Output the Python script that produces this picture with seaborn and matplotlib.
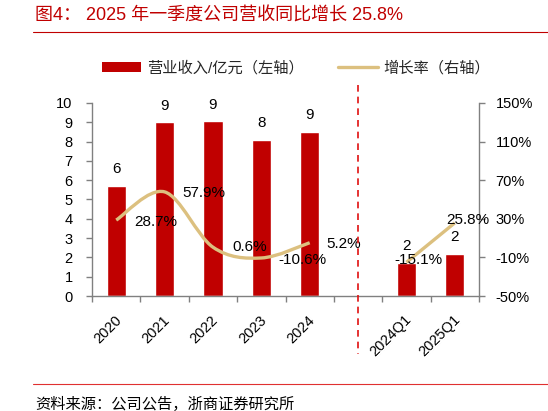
import numpy as np
import pandas as pd
import matplotlib
matplotlib.use('Agg')
import matplotlib.pyplot as plt
import seaborn as sns
from matplotlib.path import Path
from matplotlib.patches import PathPatch, Patch
from matplotlib.lines import Line2D
from matplotlib.transforms import blended_transform_factory, ScaledTranslation

# --- Data ---
periods = ['2020', '2021', '2022', '2023', '2024', '', '2024Q1', '2025Q1']
revenue = [5.7, 9.0, 9.05, 8.1, 8.5, np.nan, 1.72, 2.17]
revenue_labels = ['6', '9', '9', '8', '9', '', '2', '2']
growth = [28.7, 57.9, 0.6, -10.6, 5.2, np.nan, -15.1, 25.8]
growth_labels = ['28.7%', '57.9%', '0.6%', '-10.6%', '5.2%', '', '-15.1%', '25.8%']
left_ticks = list(range(0, 11))
right_ticks = [-50, -10, 30, 70, 110, 150]

# label offsets in pixels (dx, dy) relative to the growth point
growth_offsets = [(18, -2), (18, -1), (19, 0), (17, -2), (17, -1), (0, 0), (-12, 2), (-9, 3)]

BAR_RED = '#C00000'
LINE_TAN = '#DCC07F'
GRAY = '#808080'

sns.set_theme(style='white')
plt.rcParams['font.family'] = ['Liberation Sans', 'Noto Sans CJK SC']

fig = plt.figure(figsize=(5.48, 4.11), dpi=100)
W, H = 548, 411
ax = fig.add_axes([92 / W, 1 - 296 / H, 387 / W, 193 / H])

df = pd.DataFrame({'period': periods, 'revenue': revenue})
sns.barplot(data=df, x='period', y='revenue', order=periods, color=BAR_RED,
            saturation=1, width=0.4, errorbar=None, ax=ax)
ax.set_xlim(-0.5, len(periods) - 0.5)
ax.set_ylim(0, 10)
ax.set_xlabel('')
ax.set_ylabel('')
ax.set_yticks(left_ticks)
ax.set_yticklabels([str(t) for t in left_ticks])

# bar value labels
for i, (v, lab) in enumerate(zip(revenue, revenue_labels)):
    if lab:
        ax.annotate(lab, (i, v), xytext=(0, 12), textcoords='offset points',
                    ha='center', va='center', fontsize=11, color='black')

# --- growth line on right axis ---
ax2 = ax.twinx()
ax2.set_ylim(-50, 150)
ax2.set_yticks(right_ticks)
ax2.set_yticklabels([f'{t}%' for t in right_ticks])
ax2.grid(False)


def smooth_path(xs, ys):
    pts = np.column_stack([xs, ys])
    n = len(pts)
    verts = [pts[0]]
    codes = [Path.MOVETO]
    for i in range(n - 1):
        p_prev = pts[i - 1] if i > 0 else pts[i]
        p_next = pts[i + 2] if i + 2 < n else pts[i + 1]
        verts += [pts[i] + (pts[i + 1] - p_prev) / 6,
                  pts[i + 1] - (p_next - pts[i]) / 6,
                  pts[i + 1]]
        codes += [Path.CURVE4] * 3
    return Path(verts, codes)


g = np.array(growth, dtype=float)
x_all = np.arange(len(periods))
seg = []
for i in range(len(g) + 1):
    if i < len(g) and not np.isnan(g[i]):
        seg.append(i)
    else:
        if len(seg) > 1:
            ax2.add_patch(PathPatch(smooth_path(x_all[seg], g[seg]), facecolor='none',
                                    edgecolor=LINE_TAN, lw=2.4, capstyle='butt'))
        seg = []

for i, (v, lab) in enumerate(zip(growth, growth_labels)):
    if lab:
        dx, dy = growth_offsets[i]
        ax2.annotate(lab, (i, v), xytext=(dx * 0.72, dy * 0.72), textcoords='offset points',
                     ha='left', va='center', fontsize=11, color='black')

# --- axes styling ---
for a in (ax, ax2):
    a.spines['top'].set_visible(False)
    for s in a.spines.values():
        s.set_color(GRAY)
        s.set_linewidth(1)
ax.spines['right'].set_visible(False)
ax2.spines['left'].set_visible(False)
ax2.spines['bottom'].set_visible(False)

ax.tick_params(axis='y', direction='out', length=4, width=1, color=GRAY, pad=10,
               labelsize=10.5, labelcolor='black', left=True)
ax2.tick_params(axis='y', direction='out', length=4, width=1, color=GRAY, pad=8,
                labelsize=10.5, labelcolor='black', right=True)

ax.set_xticks(np.arange(-0.5, len(periods), 1))
ax.set_xticklabels([])
ax.tick_params(axis='x', which='major', direction='out', length=4, width=1, color=GRAY, bottom=True)
ax.set_xticks(x_all, minor=True)
ax.set_xticklabels(periods, minor=True, rotation=45, ha='right', rotation_mode='anchor',
                   fontsize=10.5, color='black')
ax.tick_params(axis='x', which='minor', length=0, pad=12)
for lbl in ax.get_xticklabels(minor=True):
    lbl.set_transform(lbl.get_transform() + ScaledTranslation(-2 / 100, 0, fig.dpi_scale_trans))

# dashed divider at the blank slot
trans = blended_transform_factory(ax.transData, fig.transFigure)
gap = periods.index('')
fig.add_artist(Line2D([gap, gap], [1 - 85 / H, 1 - 354 / H], transform=trans,
                      color='#E01010', lw=1.2, ls=(0, (4, 3))))

# --- legend ---
handles = [Patch(facecolor=BAR_RED, edgecolor='none', label='营业收入/亿元（左轴）'),
           Line2D([], [], color=LINE_TAN, lw=2.4, label='增长率（右轴）')]
fig.legend(handles=handles, loc='center', bbox_to_anchor=(296 / W, 1 - 68 / H), ncol=2,
           frameon=False, fontsize=11, handlelength=2.6, handleheight=0.55,
           columnspacing=2.2, handletextpad=0.4)

# --- title and source ---
fig.text(35 / W, 1 - 16 / H, '图4： 2025 年一季度公司营收同比增长 25.8%', color=BAR_RED,
         fontsize=13, ha='left', va='center')
fig.add_artist(Line2D([33 / W, 1], [1 - 32 / H] * 2, transform=fig.transFigure,
                      color=BAR_RED, lw=0.8))
fig.add_artist(Line2D([33 / W, 1], [1 - 384 / H] * 2, transform=fig.transFigure,
                      color='#E03030', lw=0.8))
fig.text(35 / W, 1 - 404 / H, '资料来源：公司公告，浙商证券研究所', color='black',
         fontsize=11, ha='left', va='center')

fig.savefig('out.png', dpi=100)
